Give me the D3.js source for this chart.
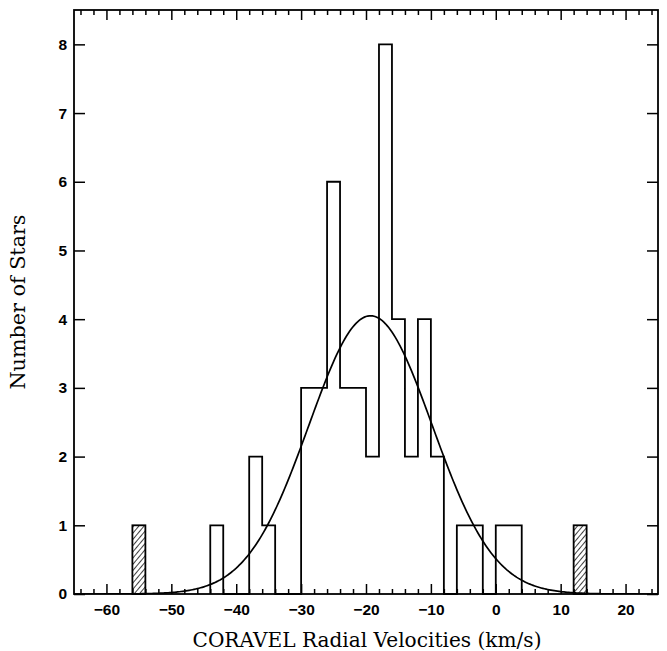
<!DOCTYPE html>
<html>
<head>
<meta charset="utf-8">
<script src="https://cdn.jsdelivr.net/npm/d3@7"></script>
<style>
  html, body { margin: 0; padding: 0; background: #fff; }
  svg { display: block; }
</style>
</head>
<body>
<svg id="chart" width="667" height="651"></svg>
<script>
// ---- data ----
const binStarts = [-44,-42,-40,-38,-36,-34,-32,-30,-28,-26,-24,-22,-20,-18,-16,-14,-12,-10,-8,-6,-4,-2,0,2];
const counts    = [  1,  0,  0,  2,  1,  0,  0,  3,  3,  6,  3,  3,  2,  8,  4,  2,  4,  2, 0, 1, 1, 0,1,1];
const binWidth = 2;
const hatchedStarts = [-56, 12];
const hatchedCounts = [1, 1];
// Gaussian fit parameters
const fitMean = -19.3, fitSigma = 9.5, fitAmp = 4.05;
const xMajorTicks = [-60,-50,-40,-30,-20,-10,0,10,20];
const xTickLabels = ["\u221260","\u221250","\u221240","\u221230","\u221220","\u221210","0","10","20"];
const yTicks = [0,1,2,3,4,5,6,7,8];
const xTitle = "CORAVEL Radial Velocities (km/s)";
const yTitle = "Number of Stars";

// ---- layout ----
const svg = d3.select("#chart");
const L = 74, R = 658, T = 10, B = 594;
const x = d3.scaleLinear().domain([-65, 25]).range([L, R]);
const y = d3.scaleLinear().domain([0, 8.5]).range([B, T]);
const xMinor = d3.range(-64, 25, 2).filter(v => v % 10 !== 0);

const defs = svg.append("defs");
const pat = defs.append("pattern").attr("id", "hatch").attr("patternUnits", "userSpaceOnUse")
  .attr("width", 4).attr("height", 4).attr("patternTransform", "rotate(40)");
pat.append("line").attr("x1", 0).attr("y1", 0).attr("x2", 0).attr("y2", 4)
  .attr("stroke", "#000").attr("stroke-width", 1.5);
defs.append("clipPath").attr("id", "clip").append("rect")
  .attr("x", L).attr("y", T).attr("width", R - L).attr("height", B - T);

const tickFont = "'Liberation Sans', Arial, sans-serif";
const titleFont = "'DejaVu Serif', 'Liberation Serif', serif";

function styleAxis(g) {
  g.select(".domain").remove();
  g.selectAll("line").attr("stroke", "#000").attr("stroke-width", 1.5);
  g.selectAll("text").attr("font-family", tickFont).attr("font-size", 15.5)
    .attr("font-weight", "bold").attr("fill", "#000");
}

// bottom
svg.append("g").attr("transform", `translate(0,${B})`)
  .call(d3.axisBottom(x).tickValues(xMajorTicks).tickFormat((d, i) => xTickLabels[i]).tickSizeInner(-10).tickSizeOuter(0).tickPadding(10))
  .call(styleAxis);
svg.append("g").attr("transform", `translate(0,${B})`)
  .call(d3.axisBottom(x).tickValues(xMinor).tickFormat("").tickSizeInner(-5).tickSizeOuter(0))
  .call(styleAxis);
// top
svg.append("g").attr("transform", `translate(0,${T})`)
  .call(d3.axisTop(x).tickValues(xMajorTicks).tickFormat("").tickSizeInner(-10).tickSizeOuter(0))
  .call(styleAxis);
svg.append("g").attr("transform", `translate(0,${T})`)
  .call(d3.axisTop(x).tickValues(xMinor).tickFormat("").tickSizeInner(-5).tickSizeOuter(0))
  .call(styleAxis);
// left
svg.append("g").attr("transform", `translate(${L},0)`)
  .call(d3.axisLeft(y).tickValues(yTicks).tickFormat(d3.format("d")).tickSizeInner(-11).tickSizeOuter(0).tickPadding(7))
  .call(styleAxis);
// right
svg.append("g").attr("transform", `translate(${R},0)`)
  .call(d3.axisRight(y).tickValues(yTicks).tickFormat("").tickSizeInner(-11).tickSizeOuter(0))
  .call(styleAxis);

// hatched bars
svg.append("g").selectAll("rect").data(hatchedStarts).join("rect")
  .attr("x", d => x(d)).attr("width", d => x(d + binWidth) - x(d))
  .attr("y", (d, i) => y(hatchedCounts[i])).attr("height", (d, i) => y(0) - y(hatchedCounts[i]))
  .attr("fill", "url(#hatch)").attr("stroke", "#000").attr("stroke-width", 1.8);

// step histogram outline
const pts = [{ v: binStarts[0], c: 0 }]
  .concat(binStarts.map((s, i) => ({ v: s, c: counts[i] })))
  .concat([{ v: binStarts[binStarts.length - 1] + binWidth, c: 0 }]);
svg.append("path").datum(pts)
  .attr("d", d3.line().x(d => x(d.v)).y(d => y(d.c)).curve(d3.curveStepAfter))
  .attr("fill", "none").attr("stroke", "#000").attr("stroke-width", 1.8);

// Gaussian fit
const gx = d3.range(-65, 25.01, 0.25);
svg.append("path").datum(gx).attr("clip-path", "url(#clip)")
  .attr("d", d3.line().x(d => x(d)).y(d => y(fitAmp * Math.exp(-((d - fitMean) ** 2) / (2 * fitSigma * fitSigma)))))
  .attr("fill", "none").attr("stroke", "#000").attr("stroke-width", 1.7);

// frame
svg.append("rect").attr("x", L).attr("y", T).attr("width", R - L).attr("height", B - T)
  .attr("fill", "none").attr("stroke", "#000").attr("stroke-width", 1.8);

// titles
svg.append("text").attr("x", 367).attr("y", 647).attr("text-anchor", "middle")
  .attr("font-family", titleFont).attr("font-size", 19.5).attr("fill", "#000")
  .attr("textLength", 349).attr("lengthAdjust", "spacingAndGlyphs").text(xTitle);
svg.append("text").attr("transform", `translate(25,302) rotate(-90)`).attr("text-anchor", "middle")
  .attr("font-family", titleFont).attr("font-size", 19.5).attr("fill", "#000")
  .attr("textLength", 175).attr("lengthAdjust", "spacingAndGlyphs").text(yTitle);
</script>
</body>
</html>
